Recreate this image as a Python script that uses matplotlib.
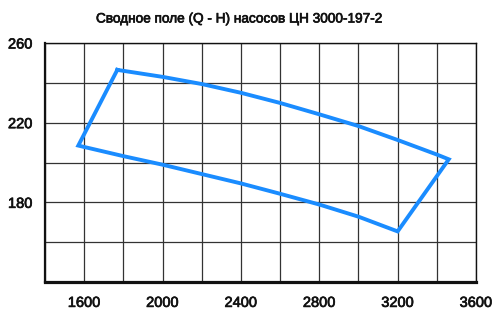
import matplotlib
matplotlib.use("Agg")
import matplotlib.pyplot as plt
import matplotlib.patheffects as pe
import numpy as np

plt.rcParams['font.family'] = ['Liberation Sans', 'DejaVu Sans']

title = "Сводное поле (Q - H) насосов ЦН 3000-197-2"

top_q = [1769, 2000, 2200, 2400, 2600, 2800, 3000, 3200, 3400, 3461]
top_h = [246.5, 243.0, 239.4, 235.0, 229.9, 224.2, 218.3, 211.3, 204.0, 201.6]

bottom_q = [3200, 3000, 2800, 2600, 2400, 2200, 2000, 1800, 1600, 1570]
bottom_h = [165.4, 172.8, 178.9, 184.3, 189.5, 194.2, 198.9, 203.2, 207.8, 208.5]

x_ticks = [1600, 2000, 2400, 2800, 3200, 3600]
y_ticks = [180, 220, 260]

fig = plt.figure(figsize=(5.03, 3.18), dpi=100)
ax = fig.add_axes([45/503, (318-282)/318, (476-45)/503, (282-43)/318])

q = top_q + bottom_q + [top_q[0]]
h = top_h + bottom_h + [top_h[0]]
ax.plot(q, h, color='#1a8cff', lw=2.8, solid_joinstyle='miter', zorder=3)

ax.set_xlim(1400, 3600)
ax.set_ylim(140, 260)
ax.set_xticks(x_ticks)
ax.set_yticks(y_ticks)
ax.set_xticks(np.arange(1400, 3601, 200), minor=True)
ax.set_yticks(np.arange(140, 261, 20), minor=True)
ax.grid(which='minor', color='#333333', lw=0.9)
ax.grid(which='major', color='#333333', lw=0.9)
ax.tick_params(which='both', length=0)
ax.tick_params(axis='x', pad=10, labelsize=10.5)
ax.tick_params(axis='y', pad=9, labelsize=10.5)
stroke = [pe.withStroke(linewidth=0.5, foreground='#111111')]
for lab in ax.get_xticklabels() + ax.get_yticklabels():
    lab.set_color('#111111')
    lab.set_path_effects(stroke)

ax.spines['bottom'].set_linewidth(2.3)
ax.spines['left'].set_linewidth(1.6)
ax.spines['top'].set_linewidth(1.0)
ax.spines['right'].set_linewidth(1.0)
for s in ax.spines.values():
    s.set_color('#111111')

fig.text(240/503, 1 - 18.5/318, title, ha='center', va='center', fontsize=9.8,
         color='#111111', path_effects=stroke)

fig.savefig('out.png', dpi=100)
